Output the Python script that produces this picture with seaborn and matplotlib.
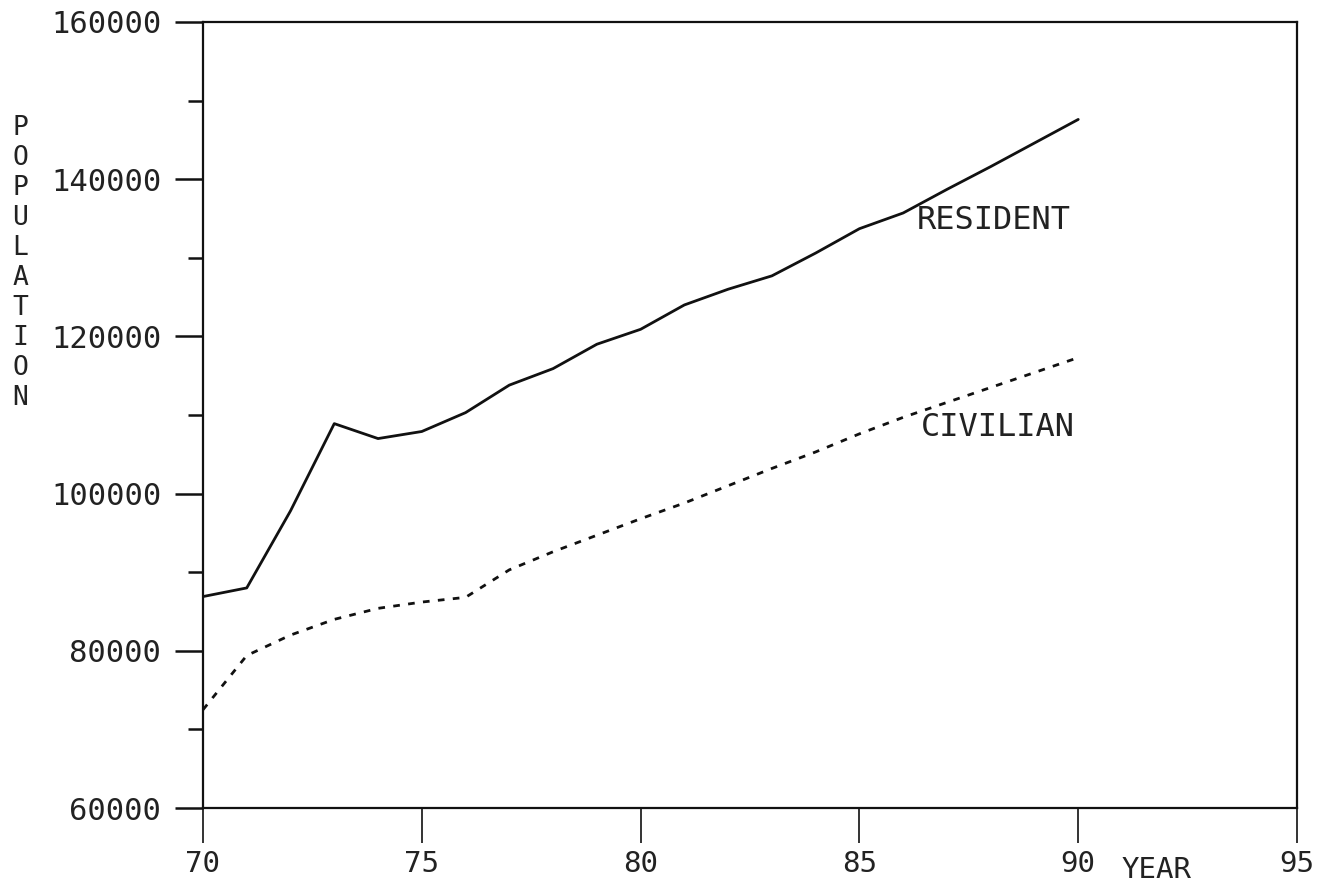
import matplotlib
matplotlib.use("Agg")
import matplotlib.pyplot as plt
from matplotlib.ticker import MultipleLocator, FixedLocator
import seaborn as sns
import pandas as pd

years = list(range(70, 91))
resident = [86900, 88000, 97800, 108900, 107000, 107900, 110300, 113800, 115900,
            119000, 120900, 124000, 126000, 127700, 130600, 133700, 135700, 138700,
            141600, 144600, 147600]
civilian = [72500, 79400, 82000, 84000, 85400, 86200, 86800, 90300, 92600, 94700,
            96800, 98800, 101000, 103200, 105300, 107600, 109700, 111600, 113500,
            115400, 117300]
series_names = ["RESIDENT", "CIVILIAN"]
x_ticks = [70, 75, 80, 85, 90, 95]
y_ticks = [60000, 80000, 100000, 120000, 140000, 160000]

df = pd.DataFrame({
    "year": years * 2,
    "population": resident + civilian,
    "series": [series_names[0]] * len(years) + [series_names[1]] * len(years),
})

sns.set_theme(style="white")
plt.rcParams["font.family"] = ["DejaVu Sans Mono", "DejaVu Sans"]

fig = plt.figure(figsize=(13.31, 8.89), dpi=100)
ax = fig.add_axes([0.1525, 0.0911, 0.822, 0.8842])

sns.lineplot(data=df, x="year", y="population", hue="series", style="series",
             palette={"RESIDENT": "#111111", "CIVILIAN": "#111111"},
             dashes={"RESIDENT": "", "CIVILIAN": (2.4, 3.0)},
             linewidth=2.0, legend=False, ax=ax)

ax.set_xlim(70, 95)
ax.set_ylim(60000, 160000)
ax.xaxis.set_major_locator(FixedLocator(x_ticks))
ax.yaxis.set_major_locator(FixedLocator(y_ticks))
ax.yaxis.set_minor_locator(MultipleLocator(10000))
ax.set_xticklabels([str(v) for v in x_ticks])
ax.set_yticklabels([str(v) for v in y_ticks])

for s in ax.spines.values():
    s.set_color("#111111")
    s.set_linewidth(1.6)

ax.tick_params(axis="x", which="major", direction="out", length=25, width=1.2,
               color="#111111", labelsize=21, pad=5, labelcolor="#222222",
               bottom=True)
ax.tick_params(axis="y", which="major", direction="out", length=20, width=1.8,
               color="#111111", labelsize=22, pad=10, labelcolor="#222222",
               left=True)
ax.tick_params(axis="y", which="minor", direction="out", length=11, width=1.8,
               color="#111111", left=True)
ax.tick_params(axis="x", which="minor", bottom=False)

ax.set_xlabel("")
ax.set_ylabel("")

ax.text(86.3, 134700, "RESIDENT", fontsize=23, color="#222222", ha="left", va="center")
ax.text(86.4, 108400, "CIVILIAN", fontsize=23, color="#222222", ha="left", va="center")

fig.text(0.869, 0.021, "YEAR", fontsize=21, color="#222222", ha="center", va="center")
fig.text(0.015, 0.704, "\n".join("POPULATION"), fontsize=19, color="#222222",
         ha="center", va="center", linespacing=1.2)

fig.savefig("out.png", dpi=100, facecolor="white")
